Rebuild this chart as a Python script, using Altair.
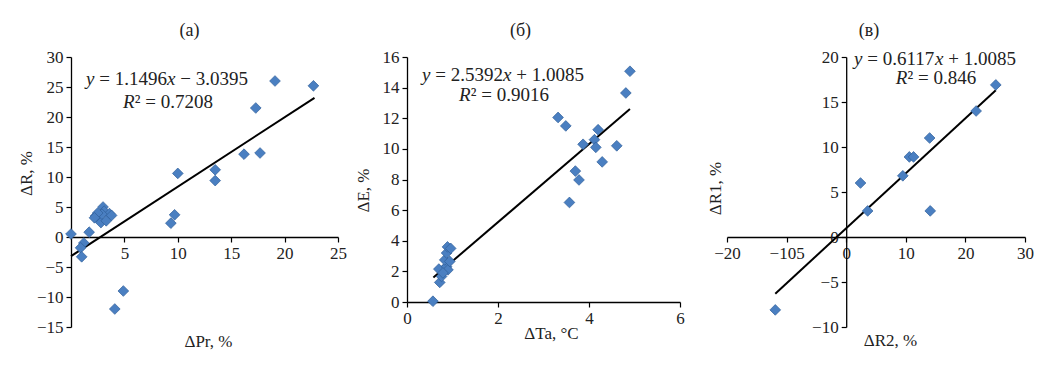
import altair as alt
import pandas as pd

FONT = "Liberation Serif"
FILL = "#4a7fc1"
EDGE = "#2f5f9a"
EQ_SIZE = 19

# ---- panel (a) ----
a_x = [0.0, 1.7, 1.2, 0.9, 1.0, 3.0, 2.3, 2.6, 2.8, 3.1, 3.6, 2.9, 2.5, 2.2, 3.3, 3.8,
       4.1, 4.9, 9.35, 9.7, 10.0, 13.5, 13.5, 16.2, 17.7, 17.3, 19.1, 22.7]
a_y = [0.5, 0.8, -1.0, -1.8, -3.3, 5.0, 3.5, 2.9, 2.4, 4.3, 3.9, 3.8, 4.0, 3.2, 2.7, 3.6,
       -12.0, -9.0, 2.3, 3.7, 10.6, 11.2, 9.4, 13.8, 14.0, 21.5, 26.0, 25.2]
a_line_x = [0.0, 22.8]
a_line_y = [-3.2, 23.2]
a_eq1 = [("y", True), (" ", False), ("= 1.1496", False), ("x", True), (" ", False), ("− 3.0395", False)]
a_eq2 = [("R", True), ("² = 0.7208", False)]

# ---- panel (б) ----
b_x = [0.57, 0.72, 0.76, 0.79, 0.70, 0.87, 0.90, 0.83, 0.87, 0.89, 0.96, 0.79, 0.94,
       3.32, 3.49, 3.57, 3.70, 3.78, 3.87, 4.12, 4.15, 4.20, 4.29, 4.61, 4.81, 4.90]
b_y = [0.05, 1.28, 1.67, 2.10, 2.15, 2.30, 2.10, 2.75, 3.20, 3.60, 3.50, 1.90, 2.65,
       12.05, 11.5, 6.5, 8.55, 7.97, 10.3, 10.6, 10.1, 11.25, 9.15, 10.2, 13.65, 15.07]
b_line_x = [0.58, 4.9]
b_line_y = [1.6, 12.6]
b_eq1 = [("y", True), (" ", False), ("= 2.5392", False), ("x", True), (" ", False), ("+ 1.0085", False)]
b_eq2 = [("R", True), ("² = 0.9016", False)]

# ---- panel (в) ----
c_x = [-11.9, 2.4, 3.6, 9.5, 10.6, 11.3, 14.0, 14.1, 21.8, 25.1]
c_y = [-8.1, 6.0, 2.9, 6.8, 8.9, 8.9, 11.0, 2.9, 14.0, 16.9]
c_line_x = [-11.9, 25.1]
c_line_y = [-6.3, 16.3]
c_eq1 = [("y", True), (" ", False), ("= 0.6117", False), ("x", True), (" ", False), ("+ 1.0085", False)]
c_eq2 = [("R", True), ("² = 0.846", False)]

# Times-compatible advance widths (per 1000 em) for laying out the equation pieces
UPRIGHT_W = {" ": 250, ".": 250, "=": 564, "−": 564, "+": 564, "²": 300}
ITALIC_W = {"x": 444, "y": 444, "R": 611}


def piece_width(text, italic):
    tbl = ITALIC_W if italic else UPRIGHT_W
    return sum(tbl.get(ch, 500) for ch in text) * EQ_SIZE / 1000.0


def eq_marks(tokens, cx, cy):
    total = sum(piece_width(t, it) for t, it in tokens)
    x = cx - total / 2.0
    marks = []
    for t, it in tokens:
        w = piece_width(t, it)
        if t.strip():
            marks.append(
                alt.Chart(pd.DataFrame({"t": [t]})).mark_text(
                    font=FONT, fontSize=EQ_SIZE, color="#222", align="left",
                    baseline="middle", fontStyle="italic" if it else "normal"
                ).encode(text="t:N", x=alt.value(round(x, 2)), y=alt.value(cy))
            )
        x += w
    return marks


def panel(title, tdx, xs, ys, lx, ly, eq1, eq2, xdom, ydom, xvals, yvals, xtitle, ytitle,
          W, H, xoff, yoff, xt_pos, yt_pos, eq_pos, label_expr_x=None):
    pts = pd.DataFrame({"x": xs, "y": ys})
    ln = pd.DataFrame({"x": lx, "y": ly})
    xaxis_kw = dict(values=xvals, title=xtitle, offset=xoff,
                    titleX=xt_pos[0], titleY=xt_pos[1], titleBaseline="middle",
                    titleAlign="center")
    if label_expr_x:
        xaxis_kw["labelExpr"] = label_expr_x
    xenc = alt.X("x:Q", scale=alt.Scale(domain=xdom, nice=False, zero=False),
                 axis=alt.Axis(**xaxis_kw))
    yenc = alt.Y("y:Q", scale=alt.Scale(domain=ydom, nice=False, zero=False),
                 axis=alt.Axis(values=yvals, title=ytitle, offset=yoff,
                               titleX=yt_pos[0], titleY=yt_pos[1],
                               titleBaseline="middle", titleAlign="center"))
    points = alt.Chart(pts).mark_point(shape="diamond", filled=True, fill=FILL,
                                       stroke=EDGE, strokeWidth=0.7, opacity=1,
                                       size=115).encode(x=xenc, y=yenc)
    line = alt.Chart(ln).mark_line(color="black", strokeWidth=2).encode(x=xenc, y=yenc)
    texts = eq_marks(eq1, eq_pos[0], eq_pos[1]) + eq_marks(eq2, eq_pos[2], eq_pos[3])
    return alt.layer(line, points, *texts).properties(
        width=W, height=H,
        title=alt.TitleParams(title, font=FONT, fontSize=18, fontWeight="normal",
                              color="#222", anchor="middle", offset=8, dx=tdx),
    )


pa = panel("(а)", -15, a_x, a_y, a_line_x, a_line_y, a_eq1, a_eq2, [0, 25], [-15, 30],
           [5, 10, 15, 20, 25], list(range(-15, 31, 5)), "ΔPr, %", "ΔR, %",
           267, 270, -90, 0, (137, 104), (-45, 116), (96, 22, 97, 45))
pb = panel("(б)", -23, b_x, b_y, b_line_x, b_line_y, b_eq1, b_eq2, [0, 6], [0, 16],
           [0, 2, 4, 6], list(range(0, 17, 2)), "ΔTa, °C", "ΔE, %",
           273, 245, 0, 0, (144, 31), (-44, 133), (96, 18, 97, 38))
pc = panel("(в)", -7, c_x, c_y, c_line_x, c_line_y, c_eq1, c_eq2, [-20, 30], [-10, 20],
           [-20, -10, 0, 10, 20, 30], list(range(-10, 21, 5)), "ΔR2, %", "ΔR1, %",
           298, 270, -90, -119.2, (163, 103), (-131, 131), (208, 2, 209, 21),
           label_expr_x="datum.value == -10 ? '−105' : datum.label")

left = alt.hconcat(pa, pb, spacing=7)
chart = alt.hconcat(left, pc, spacing=21).properties(
    padding={"left": 9, "top": 14, "right": 5, "bottom": 5}
).configure(background="white").configure_view(
    stroke=None
).configure_axis(
    grid=False, domainColor="black", domainWidth=1.3, tickColor="black", tickWidth=1.2,
    tickSize=5, labelFont=FONT, labelFontSize=17, labelColor="#222", labelPadding=3,
    titleFont=FONT, titleFontSize=17, titleFontWeight="normal", titleColor="#222",
    labelFlush=False, labelOverlap=False
)

chart.save("out.html", embed_options={"renderer": "svg", "actions": False})
